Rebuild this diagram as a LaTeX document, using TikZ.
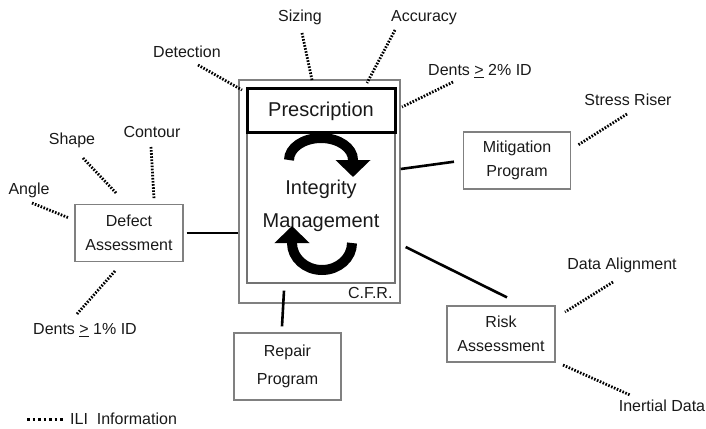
\documentclass[tikz,border=0pt]{standalone}
\usepackage{fontspec}
\setmainfont{Liberation Sans}
\usetikzlibrary{arrows.meta, positioning, calc}

\begin{document}
\begin{tikzpicture}[
        x=1pt, y=1pt,
        font=\fontsize{16}{24}\selectfont,
        every node/.style = {text=black!90},
        cfr_frame/.style = {rectangle, draw=black!50, line width=1.3pt, minimum width=161pt, minimum height=223pt, inner sep=0pt},
        im_frame/.style = {rectangle, draw=black!55, line width=1.2pt, minimum width=148pt, minimum height=195pt, inner sep=0pt},
        presc_box/.style = {rectangle, draw=black, line width=3pt, minimum width=148pt, minimum height=44pt, inner sep=0pt, font=\fontsize{20}{24}\selectfont},
        prog_box/.style = {rectangle, draw=black!50, line width=1.2pt, minimum width=108pt, minimum height=57pt, align=center, inner sep=0pt},
        big_text/.style = {font=\fontsize{20}{24}\selectfont, inner sep=0pt, text height=14.3pt, text depth=0pt},
        ili_text/.style = {inner sep=0pt, text height=11.5pt, text depth=0pt},
        link/.style = {draw, line width=2.6pt},
        ili_line/.style = {draw, line width=2.8pt, dash pattern=on 1.6pt off 1.5pt},
        legend_line/.style = {draw, line width=3pt, dash pattern=on 2.6pt off 2.9pt},
        cycle_arrow/.style = {draw, line width=10pt, -{Triangle[length=17pt, width=34pt]}}
    ]
    \useasboundingbox (0,0) rectangle (706,-428);

    % C.F.R. frame and Integrity Management
    \node [cfr_frame] (cfr) at (319.5,-191.5) {};
    \node [im_frame] (im) at (321,-185.5) {};
    \node [presc_box, anchor=north] (presc) at (im.north) {Prescription};
    \node [big_text] (integrity) at (321,-187) {Integrity};
    \node [big_text] (mgmt) at (321,-220) {Management};
    \node [ili_text, anchor=south east, xshift=-8pt, yshift=5pt] at (cfr.south east) (cfr_tag) {C.F.R.};

    % cycle arrows
    \draw [cycle_arrow] (289,-160) arc[start angle=180, end angle=0, x radius=32, y radius=22] -- ++(0,-17);
    \draw [cycle_arrow] (352,-243) arc[start angle=0, end angle=-180, x radius=30, y radius=27] -- ++(0,17);

    % Programs
    \node [prog_box] (defect) at (129,-233) {Defect\\Assessment};
    \node [prog_box, minimum width=107pt] (mitig) at (517,-160.5) {Mitigation\\Program};
    \node [prog_box, minimum height=56pt] (risk) at (501,-334) {Risk\\Assessment};
    \node [prog_box, minimum width=107pt, minimum height=67pt, font=\fontsize{16}{28}\selectfont] (repair) at (287.5,-366.5) {Repair\\Program};

    % Links
    \draw [link, shorten <=3pt] (defect.east) -- (defect.east -| cfr.west);
    \draw [link, shorten <=9pt] (mitig.west) -- ([yshift=22.5pt]cfr.east);
    \draw [link] ([xshift=6pt, yshift=8pt]risk.north) -- ([xshift=5pt, yshift=-55.5pt]cfr.east);
    \draw [link] ([xshift=-5.5pt, yshift=6pt]repair.north) -- ([xshift=-35.5pt, yshift=13pt]cfr.south);

    % ILI labels
    \node [ili_text] (detection) at (187,-52) {Detection};
    \node [ili_text] (sizing) at (300,-16) {Sizing};
    \node [ili_text] (accuracy) at (424,-16) {Accuracy};
    \node [ili_text] (dents_two) at (480,-70) {Dents \underline{>} 2\% ID};
    \node [ili_text] (stress) at (628,-100) {Stress Riser};
    \node [ili_text] (angle) at (29,-189) {Angle};
    \node [ili_text] (shape) at (72,-139) {Shape};
    \node [ili_text] (contour) at (152,-132) {Contour};
    \node [ili_text] (dents_one) at (85,-329) {Dents \underline{>} 1\% ID};
    \node [ili_text] (data_align) at (622,-264) {Data Alignment};
    \node [ili_text] (inertial) at (662,-406) {Inertial Data};

    % ILI line ends
    \coordinate (detection_a) at (198,-65);  \coordinate (detection_b) at (242,-90);
    \coordinate (sizing_a) at (302,-33);     \coordinate (sizing_b) at (312,-80);
    \coordinate (accuracy_a) at (395,-30);   \coordinate (accuracy_b) at (367,-83);
    \coordinate (dents_two_a) at (453,-82);  \coordinate (dents_two_b) at (402,-107);
    \coordinate (stress_a) at (627,-114);    \coordinate (stress_b) at (578,-145);
    \coordinate (angle_a) at (32,-203);      \coordinate (angle_b) at (69,-218);
    \coordinate (shape_a) at (83,-158);      \coordinate (shape_b) at (117,-194);
    \coordinate (contour_a) at (151,-147);   \coordinate (contour_b) at (154,-199);
    \coordinate (dents_one_a) at (115,-271); \coordinate (dents_one_b) at (77,-314);
    \coordinate (data_align_a) at (613,-282);\coordinate (data_align_b) at (565,-312);
    \coordinate (inertial_a) at (563,-365);  \coordinate (inertial_b) at (630,-395);

    \foreach \n in {detection, sizing, accuracy, dents_two, stress, angle, shape, contour, dents_one, data_align, inertial}
        \draw [ili_line] (\n_a) -- (\n_b);

    % Legend
    \node [ili_text, anchor=west] (legend) at (70,-419) {ILI\ \ Information};
    \coordinate (legend_dots) at (27,-419);
    \draw [legend_line] (legend_dots) -- ([xshift=-5pt]legend.west);

\end{tikzpicture}
\end{document}
